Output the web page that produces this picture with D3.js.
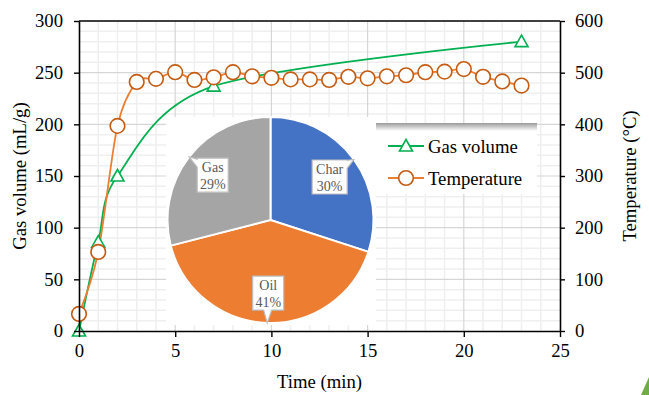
<!DOCTYPE html>
<html><head><meta charset="utf-8">
<script src="https://cdn.jsdelivr.net/npm/d3@7"></script>
<style>
html,body{margin:0;padding:0;background:#fff;}
svg{display:block;font-family:'Liberation Serif','Times New Roman',serif;}
</style></head>
<body>
<svg id="c" width="649" height="395"></svg>
<script>
// ---- data ----
const gasTime = [0, 1, 2, 7, 23];
const gasVolume = [0, 86, 150, 237, 280];
const tempTime = [0,1,2,3,4,5,6,7,8,9,10,11,12,13,14,15,16,17,18,19,20,21,22,23];
const temperature = [33,153,397,482,488,501,486,491,501,493,490,487,487,486,492,489,493,495,501,502,507,492,483,475];
const pieCategories = ["Char", "Oil", "Gas"];
const pieValues = [30, 41, 29];
const pieColors = ["#4472C4", "#ED7D31", "#A5A5A5"];
const xTicks = [0,5,10,15,20,25];
const yLeftTicks = [0,50,100,150,200,250,300];
const yRightTicks = [0,100,200,300,400,500,600];
const seriesNames = ["Gas volume", "Temperature"];

// ---- layout ----
const svg = d3.select("#c");
const L = 79, R = 560, T = 21, B = 331;
const x = d3.scaleLinear().domain([0,25]).range([L,R]);
const yL = d3.scaleLinear().domain([0,300]).range([B,T]);
const yR = d3.scaleLinear().domain([0,600]).range([B,T]);
const FS = "18.7px";
const green = "#00B050", orangeLine = "#ED7D31", orangeMk = "#C55A11";

// grid
const g = svg.append("g");
g.selectAll(".vmin").data(d3.range(1,25).filter(v=>v%5!==0)).join("line")
  .attr("x1",d=>x(d)).attr("x2",d=>x(d)).attr("y1",T).attr("y2",B)
  .attr("stroke","#EFEFEF").attr("stroke-width",1.5);
g.selectAll(".hmin").data(d3.range(10,300,10).filter(v=>v%50!==0)).join("line")
  .attr("y1",d=>yL(d)).attr("y2",d=>yL(d)).attr("x1",L).attr("x2",R)
  .attr("stroke","#EFEFEF").attr("stroke-width",1.5);
g.selectAll(".vmaj").data(xTicks.filter(v=>v>0&&v<25)).join("line")
  .attr("x1",d=>x(d)).attr("x2",d=>x(d)).attr("y1",T).attr("y2",B)
  .attr("stroke","#D6D6D6").attr("stroke-width",1.2);
g.selectAll(".hmaj").data(yLeftTicks.filter(v=>v>0&&v<300)).join("line")
  .attr("y1",d=>yL(d)).attr("y2",d=>yL(d)).attr("x1",L).attr("x2",R)
  .attr("stroke","#D6D6D6").attr("stroke-width",1.2);

// pie chart inset
const pcx = 270.5, pcy = 220, pr = 103;
svg.append("rect").attr("x",166).attr("y",117).attr("width",210).attr("height",208).attr("fill","#fff");
const pie = d3.pie().sort(null).value(d=>d.v);
const pdata = pie(pieCategories.map((c,i)=>({c, v:pieValues[i], col:pieColors[i]})));
const arc = d3.arc().innerRadius(0).outerRadius(pr);
const pg = svg.append("g").attr("transform",`translate(${pcx},${pcy})`);
pg.selectAll("path").data(pdata).join("path").attr("d",arc)
  .attr("fill",d=>d.data.col).attr("stroke","#fff").attr("stroke-width",2);

// callouts
function calloutPath(x0,y0,x1,y1,tx,ty){
  const cx=(x0+x1)/2, cy=(y0+y1)/2, dx=tx-cx, dy=ty-cy;
  const hw=(x1-x0)/2, hh=(y1-y0)/2, hb=4;
  let side;
  if (Math.abs(dx)/hw > Math.abs(dy)/hh) side = dx>0?"right":"left"; else side = dy>0?"bottom":"top";
  const pts=[];
  if (side==="top"){ const bx=Math.max(x0+hb,Math.min(x1-hb,cx+dx*hh/Math.abs(dy)));
    pts.push([x0,y0],[bx-hb,y0],[tx,ty],[bx+hb,y0],[x1,y0],[x1,y1],[x0,y1]); }
  else if (side==="right"){ const by=Math.max(y0+hb,Math.min(y1-hb,cy+dy*hw/Math.abs(dx)));
    pts.push([x0,y0],[x1,y0],[x1,by-hb],[tx,ty],[x1,by+hb],[x1,y1],[x0,y1]); }
  else if (side==="bottom"){ const bx=Math.max(x0+hb,Math.min(x1-hb,cx+dx*hh/Math.abs(dy)));
    pts.push([x0,y0],[x1,y0],[x1,y1],[bx+hb,y1],[tx,ty],[bx-hb,y1],[x0,y1]); }
  else { const by=Math.max(y0+hb,Math.min(y1-hb,cy+dy*hw/Math.abs(dx)));
    pts.push([x0,y0],[x1,y0],[x1,y1],[x0,y1],[x0,by+hb],[tx,ty],[x0,by-hb]); }
  return "M"+pts.map(p=>p.join(",")).join("L")+"Z";
}
const labelArc = d3.arc().innerRadius(pr*0.71).outerRadius(pr*0.71);
const edgeArc = d3.arc().innerRadius(pr).outerRadius(pr);
pdata.forEach(d=>{
  const [lx,ly] = labelArc.centroid(d);
  const tip = edgeArc.centroid(d);
  const pct = Math.round(d.value);
  const w = d.data.c.length>3?35:31, h=34;
  pg.append("path").attr("d",calloutPath(lx-w/2,ly-h/2,lx+w/2,ly+h/2,tip[0],tip[1]))
    .attr("fill","#fff").attr("stroke","#BFBFBF").attr("stroke-width",1.2);
  const t = pg.append("text").attr("text-anchor","middle").attr("fill","#595959").style("font-size","14px");
  t.append("tspan").attr("x",lx).attr("y",ly-3).text(d.data.c);
  t.append("tspan").attr("x",lx).attr("y",ly+13.5).text(pct+"%");
});

// series
const curve = d3.curveCardinal.tension(0.1);
const gasPts = gasTime.map((t,i)=>[x(t), yL(gasVolume[i])]);
const tempPts = tempTime.map((t,i)=>[x(t), yR(temperature[i])]);
svg.append("path").attr("d",d3.line().curve(curve)(gasPts)).attr("fill","none").attr("stroke",green).attr("stroke-width",1.8);
svg.append("path").attr("d",d3.line().curve(curve)(tempPts)).attr("fill","none").attr("stroke",orangeLine).attr("stroke-width",1.8);
const triPath = "M0,-6.5L6.5,5L-6.5,5Z";
svg.selectAll(".tri").data(gasPts).join("path").attr("d",triPath)
  .attr("transform",d=>`translate(${d[0]},${d[1]})`)
  .attr("fill","#fff").attr("stroke",green).attr("stroke-width",1.6);
svg.selectAll(".cir").data(tempPts).join("circle").attr("cx",d=>d[0]).attr("cy",d=>d[1]).attr("r",7.3)
  .attr("fill","#fff").attr("stroke",orangeMk).attr("stroke-width",1.6);

// axes
function styleAxis(sel){
  sel.select(".domain").attr("stroke","#000").attr("stroke-width",1.6);
  sel.selectAll(".tick line").attr("stroke","#000").attr("stroke-width",1.4);
  sel.selectAll(".tick text").attr("fill","#000").style("font-size",FS).style("font-family","'Liberation Serif','Times New Roman',serif");
}
svg.append("g").attr("transform",`translate(0,${B})`)
  .call(d3.axisBottom(x).tickValues(xTicks).tickSize(6).tickSizeOuter(0).tickPadding(7)).call(styleAxis);
svg.append("g").attr("transform",`translate(${L},0)`)
  .call(d3.axisLeft(yL).tickValues(yLeftTicks).tickSize(5).tickSizeOuter(0).tickPadding(11)).call(styleAxis);
svg.append("g").attr("transform",`translate(${R},0)`)
  .call(d3.axisRight(yR).tickValues(yRightTicks).tickSize(5).tickSizeOuter(0).tickPadding(10)).call(styleAxis);
svg.append("line").attr("x1",L).attr("x2",R).attr("y1",T).attr("y2",T).attr("stroke","#000").attr("stroke-width",1.6);

// axis titles
svg.append("text").attr("x",(L+R)/2).attr("y",388).attr("text-anchor","middle").style("font-size",FS).text("Time (min)");
svg.append("text").attr("transform",`translate(26,${(T+B)/2}) rotate(-90)`).attr("text-anchor","middle").style("font-size",FS).text("Gas volume (mL/g)");
svg.append("text").attr("transform",`translate(636,${(T+B)/2}) rotate(-90)`).attr("text-anchor","middle").style("font-size",FS).text("Temperature  (°C)");

// legend
const defs = svg.append("defs");
const grad = defs.append("linearGradient").attr("id","sh").attr("x1",0).attr("y1",0).attr("x2",0).attr("y2",1);
grad.append("stop").attr("offset","0%").attr("stop-color","#9a9a9a");
grad.append("stop").attr("offset","100%").attr("stop-color","#ffffff");
const lg = svg.append("g");
lg.append("rect").attr("x",376).attr("y",123).attr("width",161).attr("height",71).attr("fill","#fff");
lg.append("rect").attr("x",376).attr("y",123).attr("width",161).attr("height",8).attr("fill","url(#sh)");
const legendRows = [
  {name:seriesNames[0], y:146, col:green, mk:"tri"},
  {name:seriesNames[1], y:178, col:orangeLine, mk:"cir"}
];
legendRows.forEach(r=>{
  lg.append("line").attr("x1",388).attr("x2",424).attr("y1",r.y).attr("y2",r.y).attr("stroke",r.col).attr("stroke-width",1.8);
  if (r.mk==="tri") lg.append("path").attr("d",triPath).attr("transform",`translate(406,${r.y})`).attr("fill","#fff").attr("stroke",green).attr("stroke-width",1.6);
  else lg.append("circle").attr("cx",406).attr("cy",r.y).attr("r",7.3).attr("fill","#fff").attr("stroke",orangeMk).attr("stroke-width",1.6);
  lg.append("text").attr("x",428).attr("y",r.y+6.5).style("font-size",FS).text(r.name);
});

// corner artifact
svg.append("path").attr("d","M641,395L649,377L649,395Z").attr("fill","#70AD47");
</script>
</body></html>
